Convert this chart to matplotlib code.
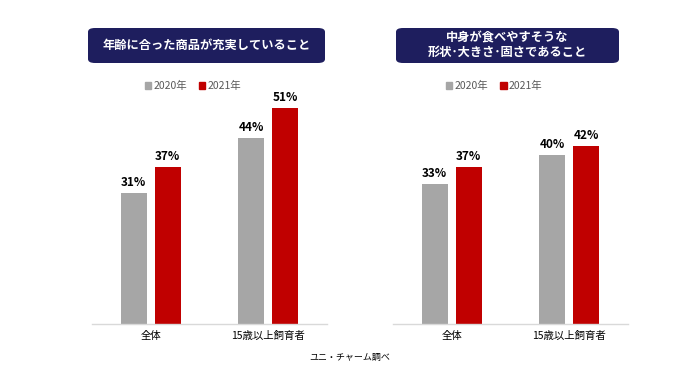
import matplotlib
matplotlib.use("Agg")
import matplotlib.pyplot as plt
from matplotlib.patches import FancyBboxPatch, Patch
import numpy as np

plt.rcParams['font.family'] = ['Noto Sans CJK JP', 'DejaVu Sans']

categories = ['全体', '15歳以上飼育者']
series_names = ['2020年', '2021年']
left_2020 = [31, 44]
left_2021 = [37, 51]
right_2020 = [33, 40]
right_2021 = [37, 42]
left_title = '年齢に合った商品が充実していること'
right_title = '中身が食べやすそうな\n形状･大きさ･固さであること'
source = 'ユニ・チャーム調べ'

GREY = '#A6A6A6'
RED = '#C00000'
NAVY = '#1E1E5E'

W, H = 700, 387
fig = plt.figure(figsize=(W/100, H/100), dpi=100)

def fx(px): return px / W
def fy(py): return 1 - py / H

base_y = 324
top_y = 324 - 4.23 * 55

def panel(x0, x1, v20, v21, title, box, legend_cx):
    ax = fig.add_axes([fx(x0), fy(base_y), fx(x1) - fx(x0), (base_y - top_y) / H])
    x = np.arange(len(categories))
    w = 0.221
    off = 0.145
    b1 = ax.bar(x - off, v20, w, color=GREY, label=series_names[0])
    b2 = ax.bar(x + off, v21, w, color=RED, label=series_names[1])
    for bars, vals in ((b1, v20), (b2, v21)):
        for r, v in zip(bars, vals):
            ax.annotate(f'{v}%', (r.get_x() + r.get_width()/2, v), xytext=(0, 3),
                        textcoords='offset points', ha='center', va='bottom',
                        fontsize=8.5, fontweight='bold', color='black')
    ax.set_xlim(-0.5, 1.5)
    ax.set_ylim(0, 55)
    ax.set_yticks([])
    ax.set_xticks(x)
    ax.set_xticklabels(categories, fontsize=7.5)
    ax.tick_params(axis='x', length=0, pad=5)
    for s in ('top', 'right', 'left'):
        ax.spines[s].set_visible(False)
    ax.spines['bottom'].set_color('#D9D9D9')
    ax.spines['bottom'].set_linewidth(1)
    # title box
    bx0, by0, bx1, by1 = box
    patch = FancyBboxPatch((fx(bx0), fy(by1)), fx(bx1) - fx(bx0), fy(by0) - fy(by1),
                           boxstyle='round,pad=0,rounding_size=0.01',
                           transform=fig.transFigure, facecolor=NAVY, edgecolor='none')
    fig.patches.append(patch)
    fig.text(fx((bx0 + bx1) / 2), fy((by0 + by1) / 2), title, ha='center', va='center',
             color='white', fontsize=8.8, fontweight='bold', linespacing=1.15)
    handles = [Patch(color=GREY), Patch(color=RED)]
    fig.legend(handles, series_names, loc='center', bbox_to_anchor=(fx(legend_cx), fy(86)),
               ncol=2, frameon=False, fontsize=7.5, handlelength=0.6, handleheight=0.6,
               handletextpad=0.2, columnspacing=1.2, labelcolor='#595959',
               bbox_transform=fig.transFigure)
    return ax

panel(92, 327, left_2020, left_2021, left_title, (88, 28, 325, 63), 193)
panel(393, 628, right_2020, right_2021, right_title, (396, 28, 619, 63), 494)

fig.text(fx(350), fy(357), source, ha='center', va='center', fontsize=6.5, color='black')

fig.savefig('out.png', dpi=100, facecolor='white')
